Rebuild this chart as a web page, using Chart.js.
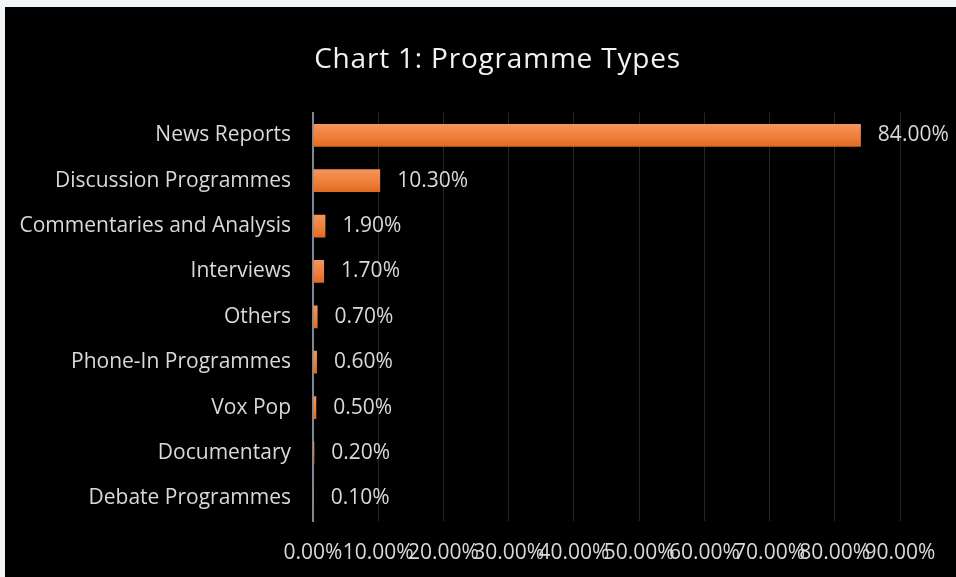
<!DOCTYPE html>
<html>
<head>
<meta charset="utf-8">
<script src="https://cdn.jsdelivr.net/npm/chart.js@4.4.1/dist/chart.umd.min.js"></script>
<style>
  html, body { margin: 0; padding: 0; background: #f3f6f9; }
  #frame {
    position: absolute; left: 5px; top: 7px;
    width: 951px; height: 570px; background: #000;
  }
</style>
</head>
<body>
<div id="frame"><canvas id="typesChart" width="951" height="570"></canvas></div>
<script>
// programme types, share of items (%)
const categories = [
  'News Reports',
  'Discussion Programmes',
  'Commentaries and Analysis',
  'Interviews',
  'Others',
  'Phone-In Programmes',
  'Vox Pop',
  'Documentary',
  'Debate Programmes',
];
const shares = [84.0, 10.3, 1.9, 1.7, 0.7, 0.6, 0.5, 0.2, 0.1];
const axisMax = 90;
const axisStep = 10;

const FONT = 'Open Sans';
const textColor = '#d9d9d9';

// orange bars shaded lighter at the top, darker at the bottom
const barShade = {
  id: 'barShade',
  beforeDatasetsDraw(chart) {
    const ctx = chart.ctx;
    chart.getDatasetMeta(0).data.forEach((bar) => {
      const top = bar.y - bar.height / 2;
      const g = ctx.createLinearGradient(0, top, 0, top + bar.height);
      g.addColorStop(0, '#f4955c');
      g.addColorStop(0.6, '#ee7d38');
      g.addColorStop(1, '#e0691f');
      bar.options = Object.assign({}, bar.options, { backgroundColor: g });
    });
  },
};

// value labels just past the end of each bar
const valueLabels = {
  id: 'valueLabels',
  afterDatasetsDraw(chart) {
    const ctx = chart.ctx;
    ctx.save();
    ctx.font = '21px "' + FONT + '"';
    ctx.fillStyle = textColor;
    ctx.textAlign = 'left';
    ctx.textBaseline = 'middle';
    chart.getDatasetMeta(0).data.forEach((bar, i) => {
      ctx.fillText(shares[i].toFixed(2) + '%', bar.x + 17, bar.y);
    });
    ctx.restore();
  },
};

// title sits a little right of the plot centre, with wider letter spacing
const titleSpacing = {
  id: 'titleSpacing',
  afterLayout(chart) {
    const tb = chart.titleBlock;
    if (!tb || tb._spaced) return;
    const draw = tb.draw.bind(tb);
    tb.draw = function () {
      const ctx = chart.ctx;
      ctx.save();
      ctx.translate(45, 0);
      ctx.letterSpacing = '0.8px';
      draw();
      ctx.restore();
    };
    tb._spaced = true;
  },
};

new Chart(document.getElementById('typesChart'), {
  type: 'bar',
  data: {
    labels: categories,
    datasets: [
      {
        data: shares,
        backgroundColor: '#ee7d38',
        borderWidth: 0,
        barPercentage: 0.5,
        categoryPercentage: 1,
      },
    ],
  },
  options: {
    indexAxis: 'y',
    responsive: false,
    animation: false,
    layout: { padding: { left: 0, right: 56, top: 0, bottom: 0 } },
    plugins: {
      legend: { display: false },
      tooltip: { enabled: false },
      title: {
        display: true,
        text: 'Chart 1: Programme Types',
        color: '#f2f2f2',
        font: { family: FONT, size: 28, weight: 'normal' },
        padding: { top: 36, bottom: 36 },
      },
    },
    scales: {
      x: {
        min: 0,
        max: axisMax,
        ticks: {
          stepSize: axisStep,
          color: textColor,
          font: { family: FONT, size: 21 },
          padding: 19,
          maxRotation: 0,
          autoSkip: false,
          callback: (v) => v.toFixed(2) + '%',
        },
        grid: { color: '#262626', drawTicks: false },
        border: { display: false },
        afterFit: (scale) => { scale.height = 56; },
      },
      y: {
        ticks: {
          color: textColor,
          font: { family: FONT, size: 21 },
          padding: 22,
        },
        grid: { display: false, drawTicks: false },
        border: { display: true, color: '#7d8896', width: 2 },
        afterFit: (scale) => { scale.width = 308; },
      },
    },
  },
  plugins: [barShade, valueLabels, titleSpacing],
});
</script>
</body>
</html>
